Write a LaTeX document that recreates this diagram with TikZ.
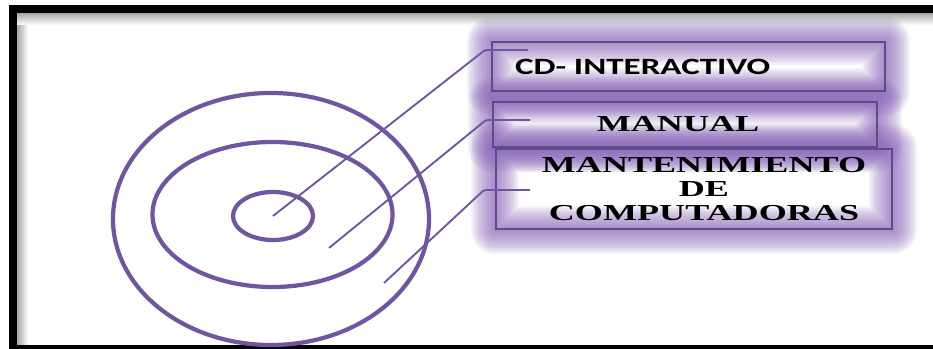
\documentclass[tikz,border=0pt]{standalone}
\usepackage{fontspec}
\newfontfamily\cdfont[FakeStretch=1.5]{Carlito}
\newfontfamily\tmfont[FakeStretch=1.58]{Liberation Serif}
\usetikzlibrary{shapes.geometric, backgrounds}
\definecolor{ringpurple}{RGB}{112,86,160}
\definecolor{glowpurple}{RGB}{135,100,185}
\definecolor{edgepurple}{RGB}{95,75,135}

\begin{document}
\begin{tikzpicture}[
x=0.03cm, y=-0.03cm,
ring/.style={ellipse, draw=ringpurple, line width=3.6pt, inner sep=0pt},
wire/.style={draw=ringpurple, line width=1.6pt, rounded corners=2pt},
box/.style={rectangle, draw=edgepurple, line width=1.1pt, inner ysep=0pt},
sansbold/.style={font=\cdfont\bfseries\fontsize{19.9}{22}\selectfont},
serifbold/.style={font=\tmfont\bfseries\fontsize{19.5}{20.5}\selectfont}
]
\useasboundingbox (0,0) rectangle (933,349);

% frame
\draw[line width=6.8pt] (13,9) rectangle (950,349);

% target
\node[ring, minimum width=9.48cm, minimum height=7.56cm] (outer) at (271,219) {};
\node[ring, minimum width=7.2cm, minimum height=4.35cm] (middle) at (272.5,214.5) {};
\node[ring, minimum width=2.4cm, minimum height=1.44cm] (core) at (273,216) {};

% boxes
\node[box, sansbold, minimum width=11.79cm, minimum height=1.47cm, text width=10.41cm, align=left, inner xsep=0.69cm] (cd) at (688.5,66.5) {CD- INTERACTIVO};
\node[box, serifbold, minimum width=11.52cm, minimum height=1.35cm] (manual) at (685,124.5) {MANUAL\hspace*{0.42cm}};
\node[box, serifbold, minimum width=11.88cm, minimum height=2.4cm, align=center] (mant) at (694,189) {\hspace*{0.6cm}MANTENIMIENTO\\ \hspace*{0.6cm}DE\\ \hspace*{0.6cm}COMPUTADORAS};

% connectors
\coordinate (k1) at (485,50);
\coordinate (e1) at (528,50);
\coordinate (s2) at (329,248);
\coordinate (k2) at (486,120);
\coordinate (e2) at (530,120);
\coordinate (s3) at (384,283);
\coordinate (k3) at (484,190);
\coordinate (e3) at (530,190);
\draw[wire] (core.center) -- (k1) -- (e1);
\draw[wire] (s2) -- (k2) -- (e2);
\draw[wire] (s3) -- (k3) -- (e3);

\begin{pgfonlayer}{background}
\fill[white] (0,0) rectangle (933,349);
\shade[left color=black!35, right color=white] (17,13) rectangle (28,345);
\shade[top color=black!35, bottom color=white] (17,13) rectangle (933,25);
\foreach \b in {cd,manual,mant}
  \foreach \w in {4,8,...,48}
    \draw[glowpurple, line width=\w*0.85pt, line join=round, opacity=0.09] (\b.north west) rectangle (\b.south east);
\end{pgfonlayer}

\end{tikzpicture}
\end{document}
